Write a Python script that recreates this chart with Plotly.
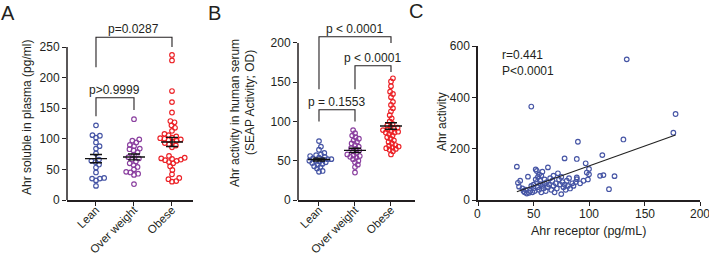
import numpy as np
import plotly.graph_objects as go

W, H = 709, 256

# ---------------- data ----------------
groups = ["Lean", "Over weight", "Obese"]
group_colors = ["#4655a5", "#8a3f9f", "#ec2227"]

# Panel A: Ahr soluble in plasma (pg/ml)
a_lean = [122, 106, 105, 102, 94, 88, 84, 76, 66, 64, 62, 58, 53, 45, 36, 35, 35, 32, 23]
a_over = [132, 99, 97, 94, 90, 88, 84, 83, 81, 78, 74, 70, 68, 66, 63, 60, 57, 54, 50, 46, 45, 43, 41, 26]
a_obese = [237, 228, 178, 160, 143, 129, 127, 122, 118, 113, 108, 106, 104, 102, 101, 100, 99, 98, 97, 95,
           93, 91, 89, 86, 72, 69, 68, 67, 66, 65, 64, 62, 60, 55, 49, 42, 36, 34, 31, 30]

# Panel B: Ahr activity in human serum (SEAP activity; OD)
b_lean = [75, 68, 64, 60, 58, 57, 56, 55, 54, 53, 52, 52, 51, 50, 50, 49, 48, 47, 46, 45, 43, 42, 40, 37, 36]
b_over = [89, 85, 82, 80, 78, 76, 74, 72, 70, 68, 66, 65, 63, 62, 60, 58, 57, 56, 55, 54, 52, 50, 48, 45, 42, 35]
b_obese = [155, 151, 145, 138, 135, 131, 125, 121, 117, 113, 108, 104, 100, 97, 95, 93, 92, 91, 90, 89,
           88, 87, 86, 86, 84, 82, 80, 78, 76, 74, 72, 70, 69, 68, 67, 66, 65, 64, 62, 58]

# Panel C: Ahr receptor (pg/mL) vs Ahr activity
c_x = [35, 36, 37, 38, 40, 41, 42, 43, 44, 45, 46, 47, 48, 48, 49, 50, 50, 51, 52, 52, 53, 53, 54, 54, 55, 55,
       56, 56, 57, 57, 58, 58, 59, 60, 60, 61, 62, 63, 63, 64, 65, 66, 67, 68, 68, 69, 70, 71, 72, 73, 74, 75,
       75, 76, 77, 78, 78, 79, 80, 81, 82, 83, 85, 86, 88, 89, 89, 89, 90, 92, 95, 97, 98, 99, 100, 100, 110,
       112, 113, 118, 123, 131, 134, 176, 178]
c_y = [130, 67, 52, 75, 45, 35, 30, 40, 25, 91, 28, 35, 364, 55, 30, 45, 60, 35, 119, 80, 113, 70, 90, 50, 100,
       40, 62, 75, 95, 30, 55, 110, 45, 80, 65, 35, 70, 127, 50, 60, 85, 40, 75, 95, 55, 30, 65, 45, 104, 80, 60,
       23, 90, 70, 50, 162, 60, 40, 75, 55, 85, 45, 65, 55, 70, 160, 88, 81, 227, 65, 75, 143, 107, 80, 121, 100,
       94, 175, 97, 42, 93, 236, 548, 262, 335]

a_ticks = [0, 50, 100, 150, 200, 250]
b_ticks = [0, 50, 100, 150, 200]
c_yticks = [0, 200, 400, 600]
c_xticks = [0, 50, 100, 150, 200]

# significance brackets: (panel, left group, right group, top, left-leg bottom, right-leg bottom, label)
brackets = [
    ("A", 0, 2, 266, 217, 250, "p=0.0287"),
    ("A", 0, 1, 167, 137, 147, "p>0.9999"),
    ("B", 0, 2, 208, 141, 200, "p < 0.0001"),
    ("B", 1, 2, 171, 141, 163, "p < 0.0001"),
    ("B", 0, 1, 115, 100, 100, "p = 0.1553"),
]

# ---------------- layout geometry (pixels) ----------------
INK = "#231f20"
FONT = "Liberation Sans"
panels = {
    "A": dict(xpx=(67, 193), ypx=(31.7, 200), xr=(-0.763, 2.553), yr=(0, 275), ytop=250, ax="x", ay="y", d=4.3),
    "B": dict(xpx=(298, 415), ypx=(31.2, 200), xr=(-0.583, 2.667), yr=(0, 215), ytop=200, ax="x2", ay="y2", d=3.7),
}


def xdom(a, b):
    return [a / W, b / W]


def ydom(top, bottom):
    return [1 - bottom / H, 1 - top / H]


def swarm(vals, ppu_y, d):
    vals = np.asarray(vals, float)
    order = np.argsort(vals)
    placed = []
    off = np.zeros(len(vals))
    for i in order:
        y = vals[i] * ppu_y
        near = [(px, py) for px, py in placed if abs(py - y) < d]
        cands = [0.0]
        for px, py in near:
            dx = np.sqrt(max(d * d - (py - y) ** 2, 0))
            cands += [px + dx, px - dx]
        cands.sort(key=lambda c: (round(abs(c), 6), -c))
        for c in cands:
            if all((c - px) ** 2 + (y - py) ** 2 >= d * d - 1e-6 for px, py in near):
                off[i] = c
                placed.append((c, y))
                break
    return off


fig = go.Figure()

panel_data = {"A": [a_lean, a_over, a_obese], "B": [b_lean, b_over, b_obese]}
for key, pdata in panel_data.items():
    P = panels[key]
    ppu_x = (P["xpx"][1] - P["xpx"][0]) / (P["xr"][1] - P["xr"][0])
    ppu_y = (P["ypx"][1] - P["ypx"][0]) / (P["yr"][1] - P["yr"][0])
    for gi, vals in enumerate(pdata):
        offs = swarm(vals, ppu_y, P["d"]) / ppu_x
        fig.add_trace(go.Scatter(
            x=gi + offs, y=vals, mode="markers", xaxis=P["ax"], yaxis=P["ay"],
            marker=dict(symbol="circle-open", size=4.6, color=group_colors[gi], line=dict(width=1.2)),
            cliponaxis=False, showlegend=False, hoverinfo="y"))
        m = float(np.mean(vals))
        s = float(np.std(vals, ddof=1) / np.sqrt(len(vals)))
        hw = 11 / ppu_x
        cw = 6 / ppu_x
        fig.add_trace(go.Scatter(
            x=[gi - hw, gi + hw, None, gi - cw, gi + cw, None, gi - cw, gi + cw, None, gi, gi],
            y=[m, m, None, m + s, m + s, None, m - s, m - s, None, m - s, m + s],
            mode="lines", line=dict(color="#111111", width=1.4), xaxis=P["ax"], yaxis=P["ay"],
            showlegend=False, hoverinfo="skip"))

# brackets
annotations = []
for key, g0, g1, top, lb, rb, label in brackets:
    P = panels[key]
    fig.add_trace(go.Scatter(
        x=[g0, g0, g1, g1], y=[lb, top, top, rb], mode="lines",
        line=dict(color=INK, width=1.1), xaxis=P["ax"], yaxis=P["ay"],
        showlegend=False, hoverinfo="skip"))
    annotations.append(dict(
        x=(g0 + g1) / 2, y=top, xref=P["ax"], yref=P["ay"], text=label, showarrow=False,
        yanchor="bottom", yshift=-1, font=dict(size=12, color=INK, family=FONT)))

# Panel C scatter + regression
cx = np.asarray(c_x, float)
cy = np.asarray(c_y, float)
fig.add_trace(go.Scatter(
    x=cx, y=cy, mode="markers", xaxis="x3", yaxis="y3",
    marker=dict(symbol="circle-open", size=4.6, color=group_colors[0], line=dict(width=1.2)),
    cliponaxis=False, showlegend=False))
slope, icpt = np.polyfit(cx, cy, 1)
xl = np.array([cx.min(), cx.max()])
fig.add_trace(go.Scatter(
    x=xl, y=slope * xl + icpt, mode="lines", xaxis="x3", yaxis="y3",
    line=dict(color="#222222", width=1.1), showlegend=False, hoverinfo="skip"))

axis_common = dict(
    showgrid=False, zeroline=False, ticks="outside", ticklen=4, tickwidth=1.4, tickcolor=INK,
    linecolor=INK, linewidth=1.5, tickfont=dict(size=12, color=INK, family=FONT), fixedrange=True,
    automargin=False, ticklabeloverflow="allow")

shapes = []
for key, ticks in (("A", a_ticks), ("B", b_ticks)):
    P = panels[key]
    n = "" if key == "A" else "2"
    fig.update_layout(**{
        "xaxis" + n: dict(axis_common, domain=xdom(*P["xpx"]), range=list(P["xr"]), showline=True,
                          tickmode="array", tickvals=[0, 1, 2], ticktext=groups, tickangle=-45,
                          tickfont=dict(size=11.5, color=INK, family=FONT),
                          ticklabelstandoff=-7, anchor="y" + n),
        "yaxis" + n: dict(axis_common, domain=ydom(*P["ypx"]), range=list(P["yr"]), showline=False,
                          tickmode="array", tickvals=ticks, anchor="x" + n),
    })
    shapes.append(dict(type="line", xref=P["ax"] + " domain", yref=P["ay"], x0=0, x1=0,
                       y0=0, y1=P["ytop"], line=dict(color=INK, width=1.5)))

fig.update_layout(
    xaxis3=dict(axis_common, domain=xdom(478, 700), range=[0, 200], showline=True,
                tickmode="array", tickvals=c_xticks, showticklabels=False, anchor="y3"),
    yaxis3=dict(axis_common, domain=ydom(46, 200), range=[0, 600], showline=True,
                tickmode="array", tickvals=c_yticks, ticktext=[str(v) for v in c_yticks], anchor="x3"),
)

# x tick labels for panel C, placed at the axis values just below the axis
for v in c_xticks:
    annotations.append(dict(
        x=v, y=0, xref="x3", yref="y3", text=str(v), showarrow=False, yanchor="top", yshift=-5,
        font=dict(size=12, color=INK, family=FONT)))


def pa(x, y, text, size=12, angle=0, xanchor="center", yanchor="middle"):
    return dict(x=x / W, y=1 - y / H, xref="paper", yref="paper", text=text, showarrow=False,
                textangle=angle, xanchor=xanchor, yanchor=yanchor,
                font=dict(size=size, color=INK, family=FONT))


annotations += [
    pa(8, 13, "A", size=20),
    pa(215, 13, "B", size=20),
    pa(416, 11, "C", size=20),
    pa(27, 118, "Ahr soluble in plasma (pg/ml)", angle=-90),
    pa(235, 113, "Ahr activity in human serum", angle=-90),
    pa(250, 103, "(SEAP Activity; OD)", angle=-90),
    pa(442, 122, "Ahr activity", angle=-90),
    pa(588, 231, "Ahr receptor (pg/mL)", size=12.5),
    pa(500, 55, "r=0.441", xanchor="left"),
    pa(500, 71, "P<0.0001", xanchor="left"),
]

fig.update_layout(
    width=W, height=H, margin=dict(l=0, r=0, t=0, b=0, autoexpand=False),
    paper_bgcolor="white", plot_bgcolor="white",
    annotations=annotations, shapes=shapes, showlegend=False,
    font=dict(family=FONT, color=INK),
)

fig.write_html("out.html")
